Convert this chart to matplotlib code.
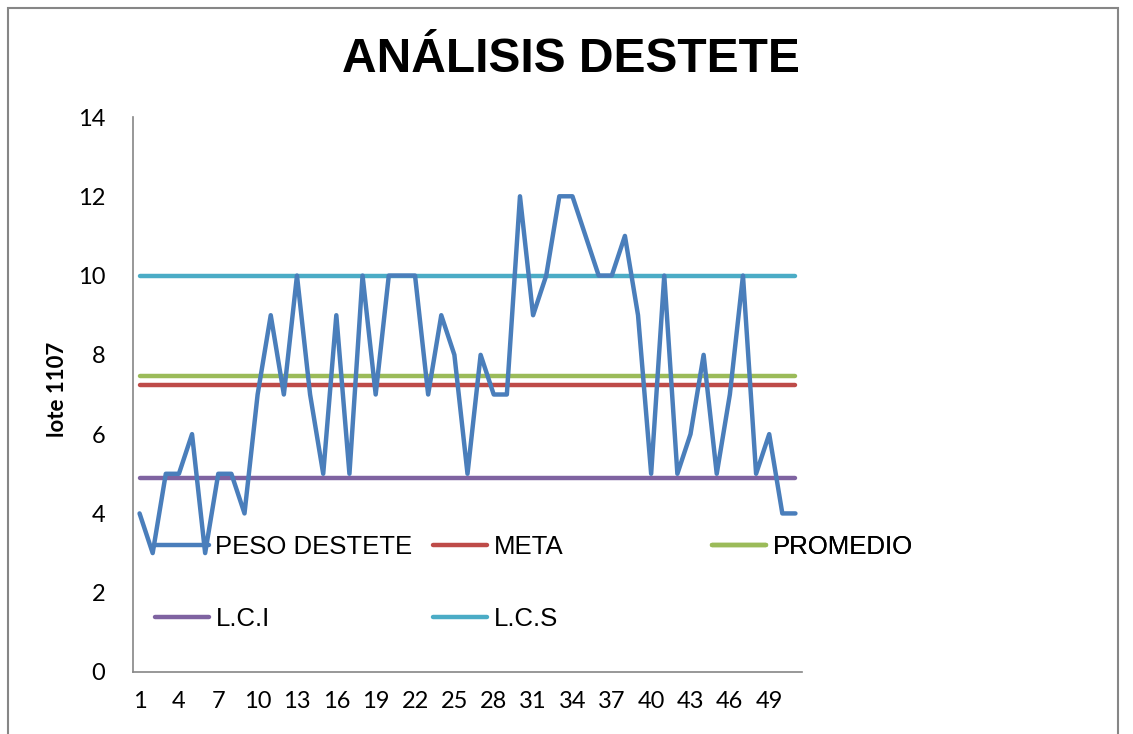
import matplotlib as mpl
mpl.use('Agg')
import matplotlib.pyplot as plt
import matplotlib.patches as mpatches
import numpy as np

# data
lote = list(range(1, 52))
peso_destete = [4, 3, 5, 5, 6, 3, 5, 5, 4, 7,
                9, 7, 10, 7, 5, 9, 5, 10, 7, 10,
                10, 10, 7, 9, 8, 5, 8, 7, 7, 12,
                9, 10, 12, 12, 11, 10, 10, 11, 9, 5,
                10, 5, 6, 8, 5, 7, 10, 5, 6, 4, 4]
meta = 7.23
promedio = 7.47
lci = 4.9
lcs = 10.0
x_ticks = list(range(1, 52, 3))
y_ticks = list(range(0, 15, 2))

blue = "#4A7EBB"
red = "#BE4B48"
green = "#9BBB59"
purple = "#7F63A1"
cyan = "#4BACC6"
axis_grey = "#868686"

W, H = 1133, 734
fig = plt.figure(figsize=(W / 100, H / 100), dpi=100)
ax = fig.add_axes([133 / W, 1 - 672 / H, (802 - 133) / W, (672 - 117) / H])

n = len(lote)
lw = 3.2
kw = dict(lw=lw, solid_capstyle='round', solid_joinstyle='round')
l_peso, = ax.plot(lote, peso_destete, color=blue, label="PESO DESTETE", zorder=3, **kw)
l_meta, = ax.plot(lote, [meta] * n, color=red, label="META", zorder=2, **kw)
l_prom, = ax.plot(lote, [promedio] * n, color=green, label="PROMEDIO", zorder=2, **kw)
l_lci, = ax.plot(lote, [lci] * n, color=purple, label="L.C.I", zorder=2, **kw)
l_lcs, = ax.plot(lote, [lcs] * n, color=cyan, label="L.C.S", zorder=2, **kw)

ax.set_xlim(0.5, n + 0.5)
ax.set_ylim(0, 14)
ax.set_xticks(x_ticks)
ax.set_yticks(y_ticks)
ax.tick_params(axis='both', length=0, labelsize=17, colors='#000000')
ax.tick_params(axis='x', pad=14)
ax.tick_params(axis='y', pad=20)
for lab in ax.get_xticklabels() + ax.get_yticklabels():
  lab.set_fontfamily('Lato')

for s in ['top', 'right']:
  ax.spines[s].set_visible(False)
for s in ['left', 'bottom']:
  ax.spines[s].set_color(axis_grey)
  ax.spines[s].set_linewidth(1.2)

fig.text(57 / W, 1 - 389 / H, "lote 1107", rotation=90, ha='center', va='center',
         fontsize=16, fontweight='bold', family='Lato')

fig.text(571 / W, 1 - 59 / H, "ANÁLISIS DESTETE", ha='center', va='center',
         fontsize=34.5, fontweight='bold', family='Liberation Sans')

# legend, three columns laid out like the spreadsheet one
leg_kw = dict(loc='upper left', frameon=False, borderpad=0, borderaxespad=0,
              handlelength=2.1, handletextpad=0.25, labelspacing=1.85,
              prop={'family': 'Liberation Sans', 'size': 18.5})
cols = [([l_peso, l_lci], 155), ([l_meta, l_lcs], 433), ([l_prom], 712)]
for handles, x0 in cols:
  leg = ax.legend(handles=handles, bbox_to_anchor=(x0 / W, 1 - 535 / H),
                  bbox_transform=fig.transFigure, **leg_kw)
  leg.set_zorder(4)
  ax.add_artist(leg)

# outer chart frame
fig.patches.append(mpatches.Rectangle((8 / W, -0.05), 1110 / W, 1.05 - 8 / H,
                                      transform=fig.transFigure, fill=False,
                                      edgecolor=axis_grey, lw=1.5))

plt.savefig("out.png", dpi=100)
plt.close()
